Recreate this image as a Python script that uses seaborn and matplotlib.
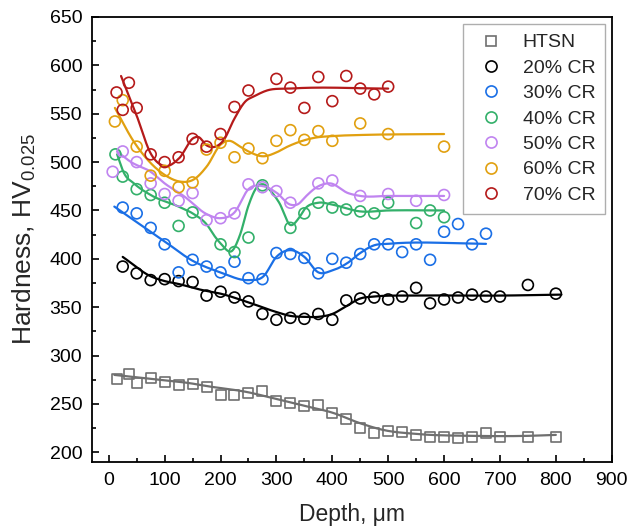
import numpy as np
import matplotlib
matplotlib.use("Agg")
import matplotlib.pyplot as plt
from matplotlib.lines import Line2D
from matplotlib.ticker import MultipleLocator
import seaborn as sns

# ---- measured hardness profiles -------------------------------------------
series_names = ["HTSN", "20% CR", "30% CR", "40% CR", "50% CR", "60% CR", "70% CR"]
series_colors = ["#6f6f6f", "#000000", "#1a6fe6", "#33b06a", "#c084f0", "#e1a010", "#b51a1a"]

htsn_depth = [15, 37, 50, 75, 100, 125, 150, 175, 200, 225, 250, 275, 300, 325, 350, 375,
              400, 425, 450, 475, 500, 525, 550, 575, 600, 625, 650, 675, 700, 750, 800]
htsn_hv = [276, 281, 272, 277, 273, 270, 271, 268, 259, 259, 261, 263, 253, 251, 248, 249,
           241, 234, 225, 220, 222, 221, 218, 216, 216, 215, 216, 220, 216, 216, 216]

cr20_depth = [25, 50, 75, 100, 125, 150, 175, 200, 225, 250, 275, 300, 325, 350, 375, 400,
              425, 450, 475, 500, 525, 550, 575, 600, 625, 650, 675, 700, 750, 800]
cr20_hv = [392, 385, 378, 379, 377, 376, 362, 366, 360, 356, 343, 337, 339, 338, 343, 337,
           357, 359, 360, 358, 361, 370, 354, 358, 360, 363, 361, 361, 373, 364]

cr30_depth = [25, 50, 75, 100, 125, 150, 175, 200, 225, 250, 275, 300, 325, 350, 375, 400,
              425, 450, 475, 500, 525, 550, 575, 600, 625, 650, 675]
cr30_hv = [453, 447, 432, 415, 386, 399, 392, 386, 397, 380, 379, 406, 405, 401, 385, 400,
           396, 405, 415, 415, 407, 415, 399, 428, 436, 415, 426]

cr40_depth = [12, 25, 50, 75, 100, 125, 150, 200, 225, 250, 275, 325, 350, 375, 400, 425,
              450, 475, 500, 550, 575, 600]
cr40_hv = [508, 485, 472, 466, 458, 434, 448, 415, 407, 422, 476, 432, 447, 458, 453, 451,
           449, 447, 458, 437, 450, 443]

cr50_depth = [7, 25, 50, 75, 100, 125, 150, 175, 200, 225, 250, 275, 300, 325, 375, 400,
              450, 500, 550, 600]
cr50_hv = [490, 511, 500, 478, 467, 460, 468, 440, 442, 447, 477, 474, 470, 458, 478, 481,
           465, 467, 460, 466]

cr60_depth = [11, 25, 50, 75, 100, 125, 150, 175, 200, 225, 250, 275, 300, 325, 350, 375,
              400, 450, 500, 600]
cr60_hv = [542, 564, 516, 486, 491, 474, 479, 513, 520, 505, 514, 504, 522, 533, 523, 532,
           522, 540, 529, 516]

cr70_depth = [14, 25, 36, 50, 75, 100, 125, 150, 175, 200, 225, 250, 300, 325, 350, 375,
              400, 425, 450, 475, 500]
cr70_hv = [572, 554, 582, 556, 508, 500, 505, 524, 516, 529, 557, 574, 586, 577, 556, 588,
           563, 589, 576, 570, 578]

# ---- smoothed trend lines (knots) -----------------------------------------
htsn_fit_x = [10, 75, 150, 175, 250, 300, 350, 400, 450, 492, 550, 650, 750, 800]
htsn_fit_y = [280, 276, 271, 268.5, 262, 255, 248, 241, 230, 223, 219, 217, 217, 218]

cr20_fit_x = [25, 75, 100, 125, 165, 200, 250, 300, 325, 350, 375, 400, 425, 450, 475, 550, 700, 810]
cr20_fit_y = [402, 382, 377, 374, 368, 364, 355, 345, 341, 340, 340, 343, 351, 359, 361, 362, 362, 363]

cr30_fit_x = [10, 45, 100, 150, 200, 250, 277, 300, 325, 350, 375, 400, 428, 450, 475, 500, 675]
cr30_fit_y = [454, 440, 418, 398, 386, 378, 382, 402, 409, 402, 386, 388, 396, 406, 414, 415.5, 415.5]

cr40_fit_x = [15, 27, 45, 75, 125, 150, 176, 190, 200, 222, 235, 250, 265, 277, 290, 305, 325,
              340, 350, 375, 400, 450, 500, 600]
cr40_fit_y = [508, 489, 478, 466, 454, 447, 435, 423, 416, 409, 425, 455, 474, 477, 470, 458, 435,
              442, 451, 458, 456, 449, 450, 450]

cr50_fit_x = [15, 40, 75, 100, 134, 176, 200, 225, 250, 277, 301, 325, 340, 350, 375, 396, 428,
              450, 500, 600]
cr50_fit_y = [511, 500, 490, 478, 465, 446, 442, 448, 472, 475, 468, 456, 457, 463, 475, 478, 468,
              465, 465, 465]

cr60_fit_x = [11, 45, 75, 105, 126, 152, 176, 200, 215, 235, 250, 277, 300, 320, 367, 403, 450, 600]
cr60_fit_y = [556, 521, 499, 485, 480, 482, 496, 518, 522, 516, 511, 506, 510, 516, 525, 527, 528, 529]

cr70_fit_x = [22, 50, 75, 99, 126, 152, 160, 176, 191, 206, 224, 245, 260, 283, 325, 500]
cr70_fit_y = [589, 548, 509, 496, 504, 525, 526, 517, 516, 523, 544, 563, 568, 574, 576, 576]


def smooth_curve(xk, yk, n=500):
    """Cubic Hermite curve through the knots with finite-difference slopes."""
    xk = np.asarray(xk, float)
    yk = np.asarray(yk, float)
    m = np.gradient(yk, xk)
    xx = np.linspace(xk[0], xk[-1], n)
    i = np.clip(np.searchsorted(xk, xx) - 1, 0, len(xk) - 2)
    h = xk[i + 1] - xk[i]
    t = (xx - xk[i]) / h
    h00 = 2 * t**3 - 3 * t**2 + 1
    h10 = t**3 - 2 * t**2 + t
    h01 = -2 * t**3 + 3 * t**2
    h11 = t**3 - t**2
    yy = h00 * yk[i] + h10 * h * m[i] + h01 * yk[i + 1] + h11 * h * m[i + 1]
    return xx, yy


points = [(htsn_depth, htsn_hv), (cr20_depth, cr20_hv), (cr30_depth, cr30_hv),
          (cr40_depth, cr40_hv), (cr50_depth, cr50_hv), (cr60_depth, cr60_hv),
          (cr70_depth, cr70_hv)]
fits = [(htsn_fit_x, htsn_fit_y), (cr20_fit_x, cr20_fit_y), (cr30_fit_x, cr30_fit_y),
        (cr40_fit_x, cr40_fit_y), (cr50_fit_x, cr50_fit_y), (cr60_fit_x, cr60_fit_y),
        (cr70_fit_x, cr70_fit_y)]
markers = ["s", "o", "o", "o", "o", "o", "o"]

sns.set_theme(style="ticks")
plt.rcParams["font.family"] = ["Liberation Sans", "DejaVu Sans"]
plt.rcParams["mathtext.fontset"] = "custom"
plt.rcParams["mathtext.rm"] = "Liberation Sans"
plt.rcParams["mathtext.it"] = "Liberation Sans:italic"

fig = plt.figure(figsize=(6.30, 5.31), dpi=100)
ax = fig.add_axes([0.146, 0.130, 0.825, 0.838])

for (dx, dy), (fx, fy), c, mk in zip(points, fits, series_colors, markers):
    xx, yy = smooth_curve(fx, fy)
    sns.lineplot(x=xx, y=yy, ax=ax, color=c, linewidth=1.6, sort=False,
                 estimator=None, legend=False)
    n_before = len(ax.collections)
    sns.scatterplot(x=dx, y=dy, ax=ax, marker=mk, s=62 if mk == "o" else 52,
                    legend=False, zorder=3)
    coll = ax.collections[n_before]
    coll.set_facecolor("none")
    coll.set_edgecolor(c)
    coll.set_linewidth(1.2)

ax.set_xlim(-30, 900)
ax.set_ylim(190, 650)
ax.xaxis.set_major_locator(MultipleLocator(100))
ax.xaxis.set_minor_locator(MultipleLocator(50))
ax.yaxis.set_major_locator(MultipleLocator(50))
ax.yaxis.set_minor_locator(MultipleLocator(25))
ax.tick_params(axis="both", which="both", direction="in", top=False, right=False,
               labelsize=14, colors="black", width=1.2, pad=7)
ax.tick_params(which="major", length=5)
ax.tick_params(which="minor", length=3)
for sp in ax.spines.values():
    sp.set_color("black")
    sp.set_linewidth(1.3)

ax.set_xlabel("Depth, \u03bcm", fontsize=16.5, labelpad=10)
ax.set_ylabel("Hardness, HV$_{0.025}$", fontsize=19, labelpad=8)

handles = [Line2D([], [], linestyle="none", marker=mk, markersize=8 if mk == "o" else 7,
                  markerfacecolor="none", markeredgecolor=c, markeredgewidth=1.2)
           for c, mk in zip(series_colors, markers)]
leg = ax.legend(handles, series_names, loc="upper right", bbox_to_anchor=(0.987, 0.984),
                borderaxespad=0, fontsize=14, frameon=True, fancybox=False,
                edgecolor="#9a9a9a", handletextpad=0.65, labelspacing=0.4,
                borderpad=0.5, handlelength=1.9)
leg.get_frame().set_linewidth(1.0)

fig.savefig("out.png", dpi=100)
